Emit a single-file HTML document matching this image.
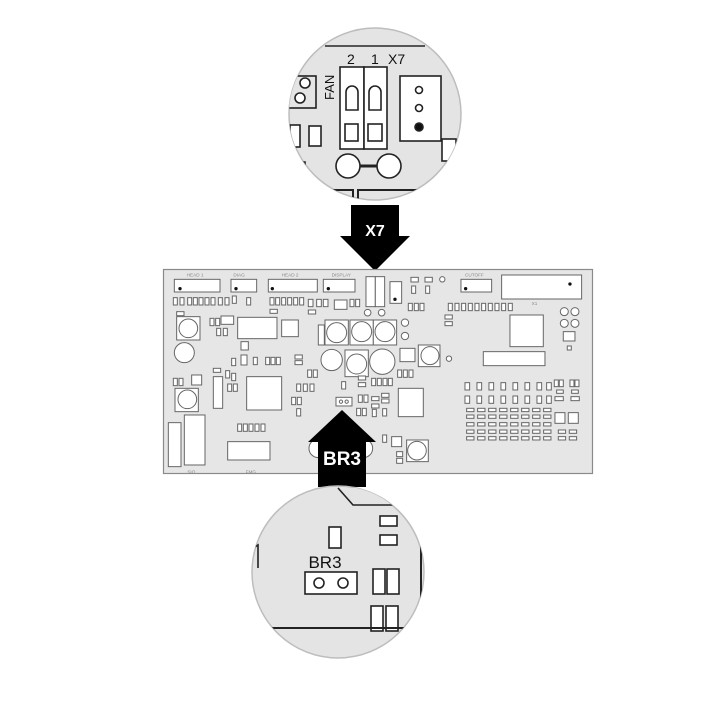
<!DOCTYPE html>
<html><head><meta charset="utf-8"><style>
html,body{margin:0;padding:0;background:#fff;width:709px;height:706px;overflow:hidden}
svg{display:block}
</style></head><body>
<svg width="709" height="706" viewBox="0 0 709 706" xmlns="http://www.w3.org/2000/svg" font-family="Liberation Sans, sans-serif">
<defs>
<clipPath id="ct"><circle cx="375" cy="114" r="86"/></clipPath>
<clipPath id="cb"><circle cx="338" cy="572" r="86"/></clipPath>
</defs>

<!-- TOP CIRCLE -->
<circle cx="375" cy="114" r="86" fill="#e4e4e4" stroke="#bdbdbd" stroke-width="1.5"/>
<g clip-path="url(#ct)" fill="#fff" stroke="#222" stroke-width="1.6">
  <line x1="325" y1="46" x2="425" y2="46" stroke="#555" stroke-width="2"/>
  <rect x="270" y="76" width="46" height="32" fill="#e4e4e4"/>
  <circle cx="305" cy="83" r="5"/><circle cx="300" cy="98" r="5"/>
  <rect x="290" y="125" width="10" height="22"/>
  <rect x="309" y="126" width="12" height="20"/>
  <rect x="340" y="67" width="24" height="82"/>
  <rect x="364" y="67" width="23" height="82"/>
  <path d="M346 110 V92 a6 6 0 0 1 12 0 V110 Z"/>
  <path d="M369 110 V92 a6 6 0 0 1 12 0 V110 Z"/>
  <rect x="345" y="124" width="13" height="17"/>
  <rect x="368" y="124" width="14" height="17"/>
  <rect x="400" y="76" width="41" height="65"/>
  <circle cx="419" cy="90" r="3.5"/><circle cx="419" cy="108" r="3.5"/>
  <circle cx="419" cy="127" r="4" fill="#111"/>
  <rect x="442" y="139" width="14" height="22"/>
  <line x1="360" y1="166" x2="378" y2="166" stroke-width="3"/>
  <circle cx="348" cy="166" r="12"/><circle cx="389" cy="166" r="12"/>
  <path d="M300 170 V162 H305 V175" fill="none"/>
  <path d="M320 200 V190 H353 V200" fill="none" stroke-width="2"/>
  <path d="M358 200 V190 H420" fill="none" stroke-width="2"/>
</g>
<g fill="#111" font-size="14">
  <text x="347" y="64">2</text>
  <text x="371" y="64">1</text>
  <text x="388" y="64">X7</text>
  <text x="0" y="0" transform="translate(334,100) rotate(-90)" font-size="13">FAN</text>
</g>

<!-- TOP ARROW -->
<path d="M351 205 H399 V236 H410 L375 271 L340 236 H351 Z" fill="#000"/>
<text x="375" y="236" fill="#fff" font-size="16" font-weight="bold" text-anchor="middle">X7</text>

<!-- BOARD -->
<rect x="163.5" y="269.5" width="429" height="204" fill="#e6e6e6" stroke="#8a8a8a" stroke-width="1.2"/>
<g transform="translate(155,260) scale(0.3333)" fill="#fff" stroke="#666" stroke-width="3">
  <!-- top connectors -->
  <rect x="58" y="58" width="137" height="38"/>
  <rect x="228" y="58" width="77" height="38"/>
  <rect x="340" y="58" width="147" height="38"/>
  <rect x="505" y="58" width="95" height="38"/>
  <rect x="918" y="58" width="92" height="38"/>
  <rect x="1040" y="45" width="240" height="72"/>
  <rect x="633" y="50" width="28" height="90"/><rect x="661" y="50" width="28" height="90"/>
  <rect x="705" y="65" width="35" height="65"/>
  <g fill="#111" stroke="none">
    <circle cx="75" cy="86" r="5"/><circle cx="243" cy="86" r="5"/><circle cx="352" cy="86" r="5"/>
    <circle cx="520" cy="86" r="5"/><circle cx="932" cy="86" r="5"/><circle cx="1245" cy="72" r="5"/>
    <circle cx="720" cy="118" r="5"/><circle cx="128" cy="578" r="5"/><circle cx="332" cy="565" r="5"/>
    <circle cx="287" cy="215" r="5"/>
  </g>
  <!-- small rect row -->
  <rect x="55" y="113" width="12" height="22"/><rect x="75" y="113" width="12" height="22"/>
  <rect x="98" y="113" width="12" height="22"/><rect x="115" y="113" width="12" height="22"/><rect x="132" y="113" width="12" height="22"/><rect x="150" y="113" width="12" height="22"/><rect x="168" y="113" width="12" height="22"/><rect x="190" y="113" width="12" height="22"/><rect x="210" y="113" width="12" height="22"/>
  <rect x="232" y="108" width="12" height="22"/><rect x="275" y="113" width="12" height="22"/>
  <rect x="345" y="113" width="12" height="22"/><rect x="362" y="113" width="12" height="22"/><rect x="380" y="113" width="12" height="22"/><rect x="398" y="113" width="12" height="22"/><rect x="416" y="113" width="12" height="22"/><rect x="434" y="113" width="12" height="22"/>
  <rect x="460" y="118" width="14" height="22"/><rect x="485" y="118" width="14" height="22"/><rect x="505" y="118" width="14" height="22"/>
  <rect x="538" y="120" width="38" height="28"/><rect x="585" y="118" width="12" height="22"/><rect x="602" y="118" width="12" height="22"/>
  <rect x="760" y="130" width="12" height="22"/><rect x="778" y="130" width="12" height="22"/><rect x="795" y="130" width="12" height="22"/>
  <rect x="768" y="52" width="22" height="14"/><rect x="810" y="52" width="22" height="14"/><circle cx="862" cy="58" r="8"/>
  <rect x="770" y="78" width="12" height="22"/><rect x="812" y="78" width="12" height="22"/>
  <rect x="880" y="130" width="12" height="22"/><rect x="900" y="130" width="12" height="22"/><rect x="920" y="130" width="12" height="22"/><rect x="940" y="130" width="12" height="22"/><rect x="960" y="130" width="12" height="22"/><rect x="980" y="130" width="12" height="22"/><rect x="1000" y="130" width="12" height="22"/><rect x="1020" y="130" width="12" height="22"/><rect x="1040" y="130" width="12" height="22"/><rect x="1060" y="130" width="12" height="22"/>
  <rect x="65" y="155" width="22" height="12"/><rect x="345" y="148" width="22" height="12"/><rect x="460" y="150" width="22" height="12"/>
  <circle cx="638" cy="158" r="10"/><circle cx="680" cy="158" r="10"/>
  <!-- circles -->
  <rect x="65" y="170" width="70" height="70"/><circle cx="100" cy="205" r="28"/>
  <circle cx="88" cy="278" r="30"/>
  <rect x="510" y="180" width="70" height="75"/><circle cx="545" cy="218" r="30"/>
  <rect x="585" y="180" width="70" height="75"/><circle cx="620" cy="215" r="30"/>
  <rect x="655" y="180" width="70" height="75"/><circle cx="690" cy="215" r="30"/>
  <circle cx="750" cy="188" r="11"/><circle cx="750" cy="228" r="11"/>
  <circle cx="530" cy="300" r="32"/>
  <rect x="570" y="270" width="70" height="80"/><circle cx="605" cy="312" r="30"/>
  <circle cx="682" cy="305" r="38"/>
  <rect x="735" y="265" width="45" height="40"/>
  <rect x="790" y="255" width="65" height="65"/><circle cx="825" cy="287" r="27"/>
  <circle cx="882" cy="296" r="8"/>
  <rect x="60" y="385" width="70" height="70"/><circle cx="97" cy="418" r="28"/>
  <rect x="755" y="540" width="65" height="65"/><circle cx="786" cy="572" r="28"/>
  <circle cx="490" cy="565" r="28"/><circle cx="625" cy="565" r="28"/>
  <!-- squares -->
  <rect x="1065" y="165" width="100" height="95"/>
  <rect x="275" y="350" width="105" height="100"/>
  <rect x="730" y="385" width="75" height="85"/>
  <rect x="380" y="180" width="50" height="50"/>
  <rect x="985" y="275" width="185" height="42"/>
  <rect x="248" y="172" width="118" height="64"/>
  <rect x="1225" y="215" width="35" height="28"/><rect x="1237" y="258" width="12" height="12"/>
  <circle cx="1228" cy="155" r="12"/><circle cx="1260" cy="155" r="12"/><circle cx="1228" cy="190" r="12"/><circle cx="1260" cy="190" r="12"/>
  <rect x="870" y="165" width="22" height="12"/><rect x="870" y="185" width="22" height="12"/>
  <rect x="490" y="195" width="18" height="60"/>
  <rect x="165" y="175" width="12" height="22"/><rect x="182" y="175" width="12" height="22"/><rect x="198" y="168" width="38" height="25"/>
  <rect x="185" y="205" width="12" height="22"/><rect x="205" y="205" width="12" height="22"/>
  <rect x="258" y="245" width="22" height="25"/>
  <rect x="230" y="295" width="12" height="22"/><rect x="258" y="285" width="18" height="30"/><rect x="295" y="292" width="12" height="22"/><rect x="332" y="292" width="12" height="22"/><rect x="348" y="292" width="12" height="22"/><rect x="364" y="292" width="12" height="22"/>
  <rect x="420" y="285" width="22" height="12"/><rect x="420" y="302" width="22" height="12"/>
  <rect x="175" y="325" width="22" height="12"/><rect x="175" y="350" width="28" height="95"/>
  <rect x="212" y="332" width="12" height="22"/><rect x="230" y="340" width="12" height="22"/><rect x="218" y="372" width="12" height="22"/><rect x="235" y="372" width="12" height="22"/>
  <rect x="55" y="355" width="12" height="22"/><rect x="72" y="355" width="12" height="22"/><rect x="110" y="345" width="30" height="30"/>
  <rect x="458" y="330" width="12" height="22"/><rect x="475" y="330" width="12" height="22"/>
  <rect x="425" y="372" width="12" height="22"/><rect x="445" y="372" width="12" height="22"/><rect x="465" y="372" width="12" height="22"/>
  <rect x="410" y="412" width="12" height="22"/><rect x="427" y="412" width="12" height="22"/><rect x="425" y="446" width="12" height="22"/>
  <rect x="560" y="365" width="12" height="22"/><rect x="610" y="348" width="22" height="12"/><rect x="610" y="368" width="22" height="12"/>
  <rect x="650" y="355" width="12" height="22"/><rect x="667" y="355" width="12" height="22"/><rect x="684" y="355" width="12" height="22"/><rect x="700" y="355" width="12" height="22"/>
  <rect x="728" y="330" width="12" height="22"/><rect x="745" y="330" width="12" height="22"/><rect x="762" y="330" width="12" height="22"/>
  <rect x="543" y="412" width="48" height="26"/><circle cx="558" cy="425" r="5"/><circle cx="575" cy="425" r="5"/>
  <rect x="610" y="405" width="12" height="22"/><rect x="627" y="405" width="12" height="22"/><rect x="650" y="410" width="22" height="12"/><rect x="680" y="400" width="22" height="12"/><rect x="680" y="417" width="22" height="12"/>
  <rect x="605" y="445" width="12" height="22"/><rect x="622" y="445" width="12" height="22"/><rect x="650" y="432" width="22" height="12"/><rect x="652" y="448" width="12" height="22"/><rect x="683" y="446" width="12" height="22"/>
  <rect x="40" y="488" width="38" height="132"/>
  <rect x="88" y="465" width="62" height="150"/>
  <rect x="218" y="545" width="127" height="55"/>
  <rect x="248" y="492" width="12" height="22"/><rect x="265" y="492" width="12" height="22"/><rect x="282" y="492" width="12" height="22"/><rect x="300" y="492" width="12" height="22"/><rect x="318" y="492" width="12" height="22"/>
  <rect x="683" y="525" width="12" height="22"/><rect x="710" y="530" width="30" height="30"/><rect x="725" y="575" width="18" height="15"/><rect x="725" y="595" width="18" height="15"/>
  <!-- bottom right grid -->
  <g>
    <rect x="930" y="368" width="14" height="22"/><rect x="966" y="368" width="14" height="22"/><rect x="1002" y="368" width="14" height="22"/><rect x="1038" y="368" width="14" height="22"/><rect x="1074" y="368" width="14" height="22"/><rect x="1110" y="368" width="14" height="22"/><rect x="1146" y="368" width="14" height="22"/><rect x="1175" y="368" width="14" height="22"/>
    <rect x="930" y="408" width="14" height="22"/><rect x="966" y="408" width="14" height="22"/><rect x="1002" y="408" width="14" height="22"/><rect x="1038" y="408" width="14" height="22"/><rect x="1074" y="408" width="14" height="22"/><rect x="1110" y="408" width="14" height="22"/><rect x="1146" y="408" width="14" height="22"/><rect x="1175" y="408" width="14" height="22"/>
    <rect x="1198" y="360" width="12" height="20"/><rect x="1213" y="360" width="12" height="20"/><rect x="1245" y="360" width="12" height="20"/><rect x="1260" y="360" width="12" height="20"/>
    <rect x="1205" y="390" width="20" height="10"/><rect x="1250" y="390" width="20" height="10"/><rect x="1200" y="410" width="25" height="12"/><rect x="1248" y="410" width="25" height="12"/>
    <rect x="1200" y="458" width="30" height="32"/><rect x="1240" y="458" width="30" height="32"/>
  </g>
  <g stroke-width="3">
    <rect x="935" y="445" width="22" height="10"/><rect x="968" y="445" width="22" height="10"/><rect x="1001" y="445" width="22" height="10"/><rect x="1034" y="445" width="22" height="10"/><rect x="1067" y="445" width="22" height="10"/><rect x="1100" y="445" width="22" height="10"/><rect x="1133" y="445" width="22" height="10"/><rect x="1166" y="445" width="22" height="10"/>
    <rect x="935" y="465" width="22" height="10"/><rect x="968" y="465" width="22" height="10"/><rect x="1001" y="465" width="22" height="10"/><rect x="1034" y="465" width="22" height="10"/><rect x="1067" y="465" width="22" height="10"/><rect x="1100" y="465" width="22" height="10"/><rect x="1133" y="465" width="22" height="10"/><rect x="1166" y="465" width="22" height="10"/>
    <rect x="935" y="488" width="22" height="10"/><rect x="968" y="488" width="22" height="10"/><rect x="1001" y="488" width="22" height="10"/><rect x="1034" y="488" width="22" height="10"/><rect x="1067" y="488" width="22" height="10"/><rect x="1100" y="488" width="22" height="10"/><rect x="1133" y="488" width="22" height="10"/><rect x="1166" y="488" width="22" height="10"/>
    <rect x="935" y="510" width="22" height="10"/><rect x="968" y="510" width="22" height="10"/><rect x="1001" y="510" width="22" height="10"/><rect x="1034" y="510" width="22" height="10"/><rect x="1067" y="510" width="22" height="10"/><rect x="1100" y="510" width="22" height="10"/><rect x="1133" y="510" width="22" height="10"/><rect x="1166" y="510" width="22" height="10"/><rect x="1210" y="510" width="22" height="10"/><rect x="1243" y="510" width="22" height="10"/>
    <rect x="935" y="530" width="22" height="10"/><rect x="968" y="530" width="22" height="10"/><rect x="1001" y="530" width="22" height="10"/><rect x="1034" y="530" width="22" height="10"/><rect x="1067" y="530" width="22" height="10"/><rect x="1100" y="530" width="22" height="10"/><rect x="1133" y="530" width="22" height="10"/><rect x="1166" y="530" width="22" height="10"/><rect x="1210" y="530" width="22" height="10"/><rect x="1243" y="530" width="22" height="10"/>
  </g>
  <g fill="#888" stroke="none" font-size="14">
    <text x="95" y="50">HEAD 1</text><text x="235" y="50">DIAG</text><text x="380" y="50">HEAD 2</text><text x="530" y="50">DISPLAY</text><text x="930" y="50">CUTOFF</text><text x="1130" y="135">X1</text><text x="97" y="640">SIO</text><text x="272" y="640">FMG</text>
  </g>
</g>

<!-- BOTTOM ARROW -->
<path d="M342 410 L376 442 H366 V487 H318 V442 H308 Z" fill="#000"/>
<text x="342" y="465" fill="#fff" font-size="19" font-weight="bold" text-anchor="middle">BR3</text>

<!-- BOTTOM CIRCLE -->
<circle cx="338" cy="572" r="86" fill="#e4e4e4" stroke="#bdbdbd" stroke-width="1.5"/>
<g clip-path="url(#cb)" fill="#fff" stroke="#222" stroke-width="1.6">
  <path d="M338 488 L353 505 H400 L410 488" fill="#e4e4e4"/>
  <rect x="380" y="516" width="17" height="10"/><rect x="380" y="535" width="17" height="10"/>
  <rect x="329" y="527" width="12" height="21"/>
  <rect x="305" y="572" width="52" height="22"/>
  <circle cx="319" cy="583" r="5"/><circle cx="343" cy="583" r="5"/>
  <rect x="373" y="569" width="12" height="25"/><rect x="387" y="569" width="12" height="25"/>
  <rect x="371" y="606" width="12" height="25"/><rect x="386" y="606" width="12" height="25"/>
  <line x1="250" y1="628" x2="430" y2="628" stroke-width="2"/>
  <line x1="421" y1="540" x2="421" y2="630" stroke-width="2"/>
  <path d="M250 550 L258 545 V568" fill="none"/>
</g>
<text x="325" y="568" fill="#111" font-size="17" text-anchor="middle">BR3</text>
</svg>
</body></html>
